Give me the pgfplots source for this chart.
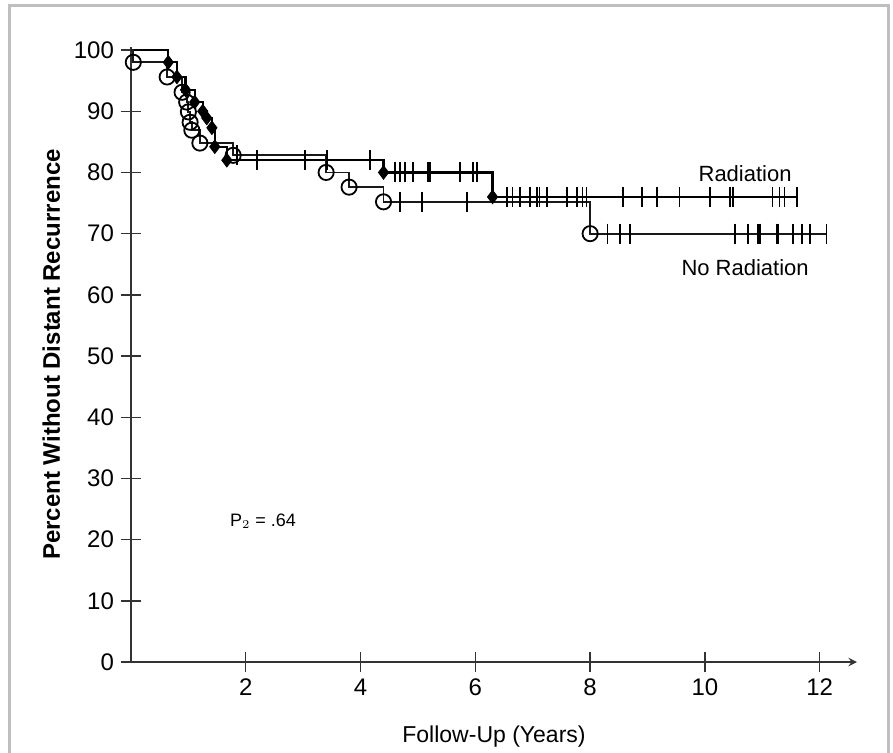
\documentclass[border=0pt]{standalone}
\usepackage{fontspec}
\setmainfont{Liberation Sans}
\usepackage{pgfplots}
\pgfplotsset{compat=1.18}

\begin{document}
\begin{tikzpicture}
\useasboundingbox (-65.5pt,-45pt) rectangle (381pt,331pt);
\draw[black!25, line width=1.5pt] (-60.5pt,-46pt) -- (-60.5pt,328.5pt) -- (378.5pt,328.5pt) -- (378.5pt,-46pt);
\begin{axis}[
    scale only axis,
    width=363pt, height=307.5pt,
    xmin=0, xmax=12.65,
    ymin=0, ymax=100.5,
    axis lines=left,
    x axis line style={-stealth, black!80, line width=0.9pt},
    y axis line style={-, black!80, line width=0.9pt},
    xtick={2,4,...,12},
    ytick={0,10,...,100},
    tick align=center,
    major tick length=10pt,
    tick style={black!80, line width=0.7pt},
    ticklabel style={font=\fontsize{12}{14}\selectfont},
    /pgf/number format/assume math mode=true,
    xlabel={Follow-Up (Years)},
    ylabel={\bfseries Percent Without Distant Recurrence},
    xlabel style={font=\fontsize{11.5}{14}\selectfont, yshift=-8pt},
    ylabel style={font=\fontsize{12}{14}\selectfont},
    clip=false,
]
% Radiation: step curve
\addplot[const plot, black, line width=1.1pt] coordinates {
    (0,100) (0.65,98) (0.8,95.6) (0.95,93.5) (1.11,91.5) (1.25,90) (1.32,88.9)
    (1.41,87.3) (1.46,84.2) (1.67,82) (4.4,80) (6.3,76) (11.6,76)
};
% No radiation: step curve
\addplot[const plot, black!90, line width=0.9pt] coordinates {
    (0,100) (0.04,98) (0.63,95.6) (0.89,93.1) (0.97,91.5) (1.0,89.9) (1.03,88.2)
    (1.06,86.9) (1.2,84.8) (1.78,82.8) (3.4,80) (3.8,77.6) (4.4,75.2) (8.0,70) (12.12,70)
};
% events, radiation (filled)
\addplot[only marks, mark=diamond*, mark size=3.4pt, black] coordinates {
    (0.65,98) (0.8,95.6) (0.95,93.5) (1.11,91.5) (1.25,90) (1.32,88.9)
    (1.41,87.3) (1.46,84.2) (1.67,82) (4.4,80) (6.3,76)
};
% events, no radiation (open)
\addplot[only marks, mark=o, mark size=3.8pt, black, mark options={fill=white, line width=0.9pt}] coordinates {
    (0.04,98) (0.63,95.6) (0.89,93.1) (0.97,91.5) (1.0,89.9) (1.03,88.2)
    (1.06,86.9) (1.2,84.8) (1.78,82.8) (3.4,80) (3.8,77.6) (4.4,75.2) (8.0,70)
};
% censored, radiation
\addplot[only marks, mark=|, mark size=5pt, black, mark options={line width=0.8pt}] coordinates {
    (2.2,82) (3.03,82) (3.41,82) (4.16,82)
    (4.6,80) (4.69,80) (4.77,80) (4.91,80) (5.17,80) (5.21,80) (5.73,80) (5.96,80) (6.03,80)
    (6.55,76) (6.65,76) (6.78,76) (6.95,76) (7.07,76) (7.12,76) (7.25,76) (7.6,76) (7.77,76)
    (7.87,76) (7.94,76) (8.57,76) (8.9,76) (9.16,76) (9.56,76) (10.09,76) (10.44,76)
    (10.49,76) (11.18,76) (11.3,76) (11.39,76) (11.6,76)
};
% censored, no radiation
\addplot[only marks, mark=|, mark size=5pt, black, mark options={line width=0.8pt}] coordinates {
    (1.85,82.8) (4.69,75.2) (5.07,75.2) (5.85,75.2)
    (8.3,70) (8.52,70) (8.69,70) (10.52,70) (10.75,70) (10.92,70) (10.96,70)
    (11.25,70) (11.27,70) (11.53,70) (11.69,70) (11.83,70) (12.12,70)
};
\node[font=\fontsize{11}{13}\selectfont] at (axis cs:10.7,79.8) {Radiation};
\node[font=\fontsize{11}{13}\selectfont] at (axis cs:10.7,64.5) {No Radiation};
\node[font=\fontsize{9}{11}\selectfont] at (axis cs:2.3,23) {P$_2$ = .64};
\end{axis}
\end{tikzpicture}
\end{document}
